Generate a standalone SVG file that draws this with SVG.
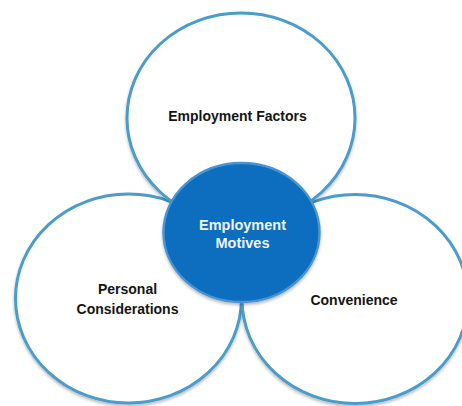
<svg xmlns="http://www.w3.org/2000/svg" width="462" height="406" viewBox="0 0 462 406">
  <style>
    .outer { fill: #ffffff; stroke: #4a9ccb; stroke-width: 3; filter: url(#shadow); }
    .core { fill: #0b6dbf; stroke: #4a94d2; stroke-width: 2.5; filter: url(#shadow); }
    .label { font-family: "Liberation Sans", Arial, sans-serif; font-weight: bold; font-size: 14px; text-anchor: middle; fill: #141414; }
    .core-label { fill: #eef6fc; font-size: 14.5px; }
  </style>
  <defs>
    <filter id="shadow" x="-10%" y="-10%" width="120%" height="125%">
      <feDropShadow dx="0" dy="2" stdDeviation="1.5" flood-color="#000000" flood-opacity="0.28"/>
    </filter>
  </defs>
  <rect width="462" height="406" fill="#ffffff"/>

  <g id="node-personal">
    <ellipse class="outer" cx="128.5" cy="298.5" rx="113" ry="104.5"/>
    <text class="label" x="127.5" y="294">Personal</text>
    <text class="label" x="127.5" y="314">Considerations</text>
  </g>

  <g id="node-convenience">
    <ellipse class="outer" cx="355" cy="299" rx="113" ry="104.5"/>
    <text class="label" x="354" y="305">Convenience</text>
  </g>

  <g id="node-factors">
    <ellipse class="outer" cx="241" cy="118" rx="114" ry="105"/>
    <text class="label" x="237.5" y="121">Employment Factors</text>
  </g>

  <g id="node-motives">
    <ellipse class="core" cx="241.5" cy="232.5" rx="78" ry="69.5"/>
    <text class="label core-label" x="242.5" y="230">Employment</text>
    <text class="label core-label" x="242.5" y="248">Motives</text>
  </g>

  <g id="connectors"></g>
</svg>
